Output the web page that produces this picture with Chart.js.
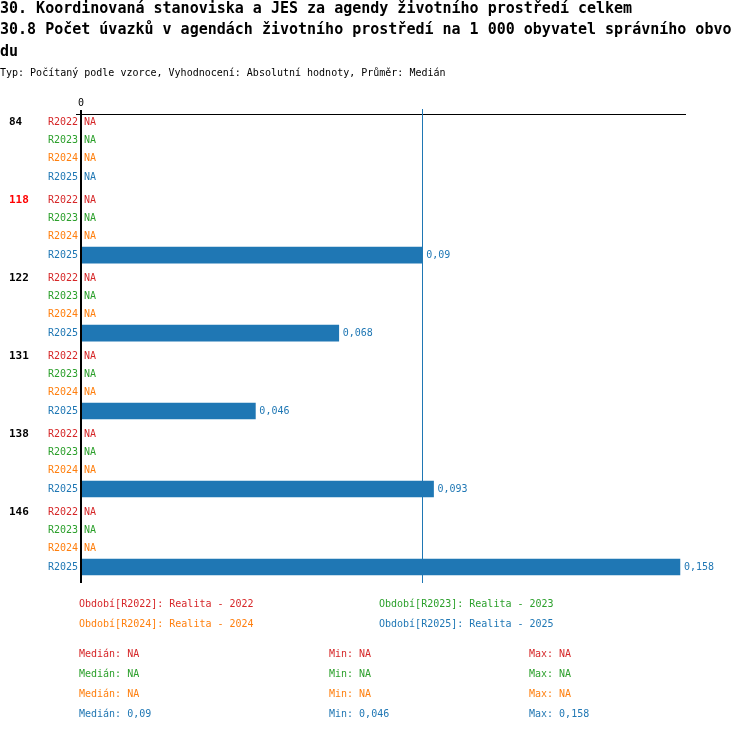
<!DOCTYPE html>
<html><head><meta charset="utf-8">
<script src="https://cdn.jsdelivr.net/npm/chart.js@4"></script>
<style>html,body{margin:0;padding:0;background:#fff;}canvas{display:block;}</style>
</head><body>
<canvas id="c" width="750" height="732"></canvas>
<script>
const titleLines = ['30. Koordinovaná stanoviska a JES za agendy životního prostředí celkem',
  '30.8 Počet úvazků v agendách životního prostředí na 1 000 obyvatel správního obvo',
  'du'];
const subtitle = 'Typ: Počítaný podle vzorce, Vyhodnocení: Absolutní hodnoty, Průměr: Medián';
const groups = ['84', '118', '122', '131', '138', '146'];
const highlightGroup = '118';
const periods = ['R2022', 'R2023', 'R2024', 'R2025'];
const periodNames = ['Realita - 2022', 'Realita - 2023', 'Realita - 2024', 'Realita - 2025'];
const colors = ['#d62728', '#2ca02c', '#ff7f0e', '#1f77b4'];
const valsR2022 = [null, null, null, null, null, null];
const valsR2023 = [null, null, null, null, null, null];
const valsR2024 = [null, null, null, null, null, null];
const valsR2025 = [null, 0.09, 0.068, 0.046, 0.093, 0.158];
const medians = [null, null, null, 0.09];
const mins = [null, null, null, 0.046];
const maxs = [null, null, null, 0.158];
const xTicks = [0];

const series = [valsR2022, valsR2023, valsR2024, valsR2025];
const GROUP_STEP = 4.25;
const rowPos = (g, r) => g * GROUP_STEP + r;
const fmt = v => v == null ? 'NA' : String(v).replace('.', ',');
const MONO = '"DejaVu Sans Mono", "Liberation Mono", monospace';

const datasets = series.map((vals, r) => ({
  label: periods[r],
  data: vals.map((v, g) => ({ x: v, y: rowPos(g, r) })),
  backgroundColor: colors[r],
  borderWidth: 0,
  barThickness: 16,
  grouped: false
}));

const drawPlugin = {
  id: 'drawExtras',
  beforeDatasetsDraw(chart) {
    const ctx = chart.ctx, ca = chart.chartArea, xs = chart.scales.x;
    ctx.save();
    ctx.strokeStyle = '#000'; ctx.lineWidth = 1;
    ctx.beginPath(); ctx.moveTo(ca.left - 5, ca.top + 0.5); ctx.lineTo(ca.right, ca.top + 0.5); ctx.stroke();
    medians.forEach((m, i) => {
      if (m == null) return;
      const px = Math.round(xs.getPixelForValue(m)) + 0.5;
      ctx.strokeStyle = colors[i]; ctx.lineWidth = 1;
      ctx.beginPath(); ctx.moveTo(px, ca.top - 5); ctx.lineTo(px, ca.bottom); ctx.stroke();
    });
    ctx.restore();
  },
  afterDatasetsDraw(chart) {
    const ctx = chart.ctx, ca = chart.chartArea, xs = chart.scales.x, ys = chart.scales.y;
    ctx.save();
    const x0 = xs.getPixelForValue(0);
    ctx.fillStyle = '#000';
    ctx.fillRect(Math.round(x0) - 1, ca.top - 4, 2, ca.bottom - ca.top + 4);
    ctx.font = '10px ' + MONO; ctx.textAlign = 'center'; ctx.textBaseline = 'middle';
    xTicks.forEach(t => ctx.fillText(String(t), xs.getPixelForValue(t), ca.top - 11));
    groups.forEach((gName, g) => {
      const yG = ys.getPixelForValue(rowPos(g, 0));
      ctx.font = 'bold 11px ' + MONO; ctx.textAlign = 'left';
      ctx.fillStyle = gName === highlightGroup ? '#ff0000' : '#000';
      ctx.fillText(gName, 9, yG);
      periods.forEach((p, r) => {
        const y = ys.getPixelForValue(rowPos(g, r));
        ctx.font = '10px ' + MONO;
        ctx.fillStyle = colors[r];
        ctx.textAlign = 'right';
        ctx.fillText(p, x0 - 3, y);
        ctx.textAlign = 'left';
        const v = series[r][g];
        if (v == null) ctx.fillText('NA', x0 + 3, y);
        else ctx.fillText(fmt(v), xs.getPixelForValue(v) + 4, y);
      });
    });
    ctx.fillStyle = '#000'; ctx.textAlign = 'left';
    ctx.font = 'bold 15px ' + MONO;
    titleLines.forEach((t, i) => ctx.fillText(t, 0, 9 + i * 21.5));
    ctx.font = '10px ' + MONO;
    ctx.fillText(subtitle, 0, 73);
    periods.forEach((p, i) => {
      ctx.fillStyle = colors[i];
      const lx = i % 2 === 0 ? 79 : 379;
      const ly = 604 + Math.floor(i / 2) * 20;
      ctx.fillText('Období[' + p + ']: ' + periodNames[i], lx, ly);
    });
    periods.forEach((p, i) => {
      ctx.fillStyle = colors[i];
      const ly = 654 + i * 20;
      ctx.fillText('Medián: ' + fmt(medians[i]), 79, ly);
      ctx.fillText('Min: ' + fmt(mins[i]), 329, ly);
      ctx.fillText('Max: ' + fmt(maxs[i]), 529, ly);
    });
    ctx.restore();
  }
};

new Chart(document.getElementById('c'), {
  type: 'bar',
  data: { datasets },
  options: {
    indexAxis: 'y',
    responsive: false,
    animation: false,
    devicePixelRatio: 1,
    layout: { padding: { left: 81, right: 64, top: 114, bottom: 149 } },
    plugins: { legend: { display: false }, title: { display: false }, tooltip: { enabled: false } },
    scales: {
      x: { type: 'linear', min: 0, max: 0.1596, display: false, offset: false },
      y: { type: 'linear', reverse: true, min: -0.436, max: 25.12, display: false, offset: false }
    }
  },
  plugins: [drawPlugin]
});
</script>
</body></html>
